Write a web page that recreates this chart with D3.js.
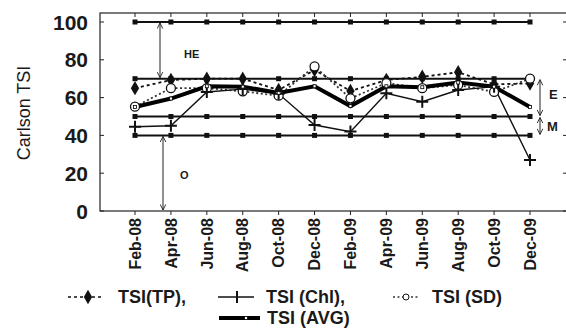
<!DOCTYPE html>
<html><head><meta charset="utf-8">
<script src="https://cdn.jsdelivr.net/npm/d3@7"></script>
<style>body{margin:0;background:#fff}svg{display:block}text{font-family:Arial,"Liberation Sans",sans-serif;fill:#1a1a1a}</style>
</head><body><svg id="c" width="566" height="329"></svg>
<script>
const months = ["Feb-08","Apr-08","Jun-08","Aug-08","Oct-08","Dec-08","Feb-09","Apr-09","Jun-09","Aug-09","Oct-09","Dec-09"];
const tsiTP  = [65, 69.3, 70, 70, 64, 74.6, 63.5, 69.3, 71, 73.4, 67, 67.5];
const tsiChl = [44.6, 45.1, 63, 64.5, 62, 45.5, 42, 62.3, 57.8, 64, 65.8, 27];
const tsiSD  = [55.2, 65, 65, 63.3, 61, 76.5, 59.6, 67.7, 65, 66.7, 63, 70];
const tsiAVG = [55, 59.5, 66, 65.8, 62.5, 66, 55.5, 66, 65.5, 68, 65.8, 55];
const refLevels = [100, 70, 50, 40];
const yTicks = [0, 20, 40, 60, 80, 100];
const zones = [{label:"HE", from:100, to:70}, {label:"O", from:40, to:0}, {label:"E", from:70, to:50}, {label:"M", from:50, to:40}];

const svg = d3.select("#c");
const x = d3.scalePoint().domain(months).range([135, 530]);
const y = d3.scaleLinear().domain([0, 100]).range([211, 22]);
const L = 100, R = 567, T = 13, B = 211;

svg.append("rect").attr("x", L).attr("y", T).attr("width", R - L).attr("height", B - T)
  .attr("fill", "none").attr("stroke", "#222").attr("stroke-width", 1.2);

const ya = svg.append("g");
yTicks.forEach(v => {
  ya.append("line").attr("x1", L).attr("x2", L + 4).attr("y1", y(v)).attr("y2", y(v)).attr("stroke", "#222");
  ya.append("line").attr("x1", R - 4).attr("x2", R).attr("y1", y(v)).attr("y2", y(v)).attr("stroke", "#222");
  ya.append("text").attr("x", 88).attr("y", y(v)).attr("dy", "0.36em").attr("text-anchor", "end")
    .attr("font-size", 21).attr("font-weight", "bold").text(v);
});
svg.append("text").attr("transform", "translate(30,113) rotate(-90)").attr("text-anchor", "middle")
  .attr("font-size", 18).text("Carlson TSI");

months.forEach(m => {
  svg.append("line").attr("x1", x(m)).attr("x2", x(m)).attr("y1", T).attr("y2", T + 4).attr("stroke", "#222");
  svg.append("line").attr("x1", x(m)).attr("x2", x(m)).attr("y1", B).attr("y2", B + 4).attr("stroke", "#222");
  svg.append("text").attr("transform", `translate(${x(m)},218) rotate(-90)`).attr("dy", "0.36em")
    .attr("text-anchor", "end").attr("font-size", 16).attr("font-weight", "bold").text(m);
});

refLevels.forEach(v => {
  svg.append("line").attr("x1", x(months[0])).attr("x2", x(months[months.length - 1]))
    .attr("y1", y(v)).attr("y2", y(v)).attr("stroke", "#111").attr("stroke-width", 2);
  months.forEach(m => svg.append("rect").attr("x", x(m) - 2.5).attr("y", y(v) - 2.5)
    .attr("width", 5).attr("height", 5).attr("fill", "#111"));
});

const defs = svg.append("defs");
defs.append("marker").attr("id", "ah").attr("viewBox", "0 0 10 10").attr("refX", 9).attr("refY", 5)
  .attr("markerWidth", 7).attr("markerHeight", 7).attr("orient", "auto-start-reverse")
  .append("path").attr("d", "M1,1 L9,5 L1,9").attr("fill", "none").attr("stroke", "#222").attr("stroke-width", 1.3);
const arrowX = {HE: 160, O: 163, E: 540, M: 540};
const labelPos = {HE: [184, 54], O: [180, 175], E: [549, 94], M: [547, 126]};
zones.forEach(z => {
  svg.append("line").attr("x1", arrowX[z.label]).attr("x2", arrowX[z.label])
    .attr("y1", y(z.from) + 1).attr("y2", y(z.to) - 1).attr("stroke", "#222").attr("stroke-width", 1)
    .attr("marker-start", "url(#ah)").attr("marker-end", "url(#ah)");
  svg.append("text").attr("x", labelPos[z.label][0]).attr("y", labelPos[z.label][1]).attr("dy", "0.36em")
    .attr("font-size", z.label === "HE" || z.label === "O" ? 11 : 13).attr("font-weight", "bold")
    .attr("fill", "#333").text(z.label);
});

const line = d3.line().x((d, i) => x(months[i])).y(d => y(d));

svg.append("path").attr("d", line(tsiTP)).attr("fill", "none").attr("stroke", "#111")
  .attr("stroke-width", 1.8).attr("stroke-dasharray", "3,3");
svg.append("path").attr("d", line(tsiSD)).attr("fill", "none").attr("stroke", "#333")
  .attr("stroke-width", 1.8).attr("stroke-dasharray", "2,2.5");
svg.append("path").attr("d", line(tsiChl)).attr("fill", "none").attr("stroke", "#111").attr("stroke-width", 1.4);
svg.append("path").attr("d", line(tsiAVG)).attr("fill", "none").attr("stroke", "#000").attr("stroke-width", 4);

const dia = d3.symbol().type(d3.symbolDiamond).size(60);
tsiTP.forEach((v, i) => svg.append("path").attr("d", dia()).attr("transform", `translate(${x(months[i])},${y(v)})`).attr("fill", "#111"));
tsiSD.forEach((v, i) => svg.append("circle").attr("cx", x(months[i])).attr("cy", y(v)).attr("r", 4.5)
  .attr("fill", "#fff").attr("stroke", "#111").attr("stroke-width", 1.3));
tsiChl.forEach((v, i) => svg.append("path").attr("d", "M-6,0H6M0,-6V6").attr("transform", `translate(${x(months[i])},${y(v)})`)
  .attr("stroke", "#111").attr("stroke-width", 2));
tsiAVG.forEach((v, i) => svg.append("rect").attr("x", x(months[i]) - 1.5).attr("y", y(v) - 1.5).attr("width", 3).attr("height", 3)
  .attr("fill", "#fff").attr("stroke", "#000").attr("stroke-width", 0.8));

const lg = svg.append("g");
const ly1 = 297, ly2 = 318, lfs = 18;
lg.append("line").attr("x1", 68).attr("x2", 104).attr("y1", ly1).attr("y2", ly1).attr("stroke", "#111").attr("stroke-width", 1.5).attr("stroke-dasharray", "3,3");
lg.append("path").attr("d", dia()).attr("transform", `translate(88,${ly1})`).attr("fill", "#111");
lg.append("text").attr("x", 118).attr("y", ly1).attr("dy", "0.36em").attr("font-size", lfs).attr("font-weight", "bold").text("TSI(TP),");
lg.append("line").attr("x1", 218).attr("x2", 254).attr("y1", ly1).attr("y2", ly1).attr("stroke", "#111").attr("stroke-width", 1.5);
lg.append("path").attr("d", "M0,-6V6").attr("transform", `translate(237,${ly1})`).attr("stroke", "#111").attr("stroke-width", 2);
lg.append("text").attr("x", 266).attr("y", ly1).attr("dy", "0.36em").attr("font-size", lfs).attr("font-weight", "bold").text("TSI (Chl),");
lg.append("line").attr("x1", 393).attr("x2", 420).attr("y1", ly1).attr("y2", ly1).attr("stroke", "#333").attr("stroke-width", 1.5).attr("stroke-dasharray", "2,2.5");
lg.append("circle").attr("cx", 406).attr("cy", ly1).attr("r", 3).attr("fill", "#fff").attr("stroke", "#111");
lg.append("text").attr("x", 432).attr("y", ly1).attr("dy", "0.36em").attr("font-size", lfs).attr("font-weight", "bold").text("TSI (SD)");
lg.append("line").attr("x1", 219).attr("x2", 260).attr("y1", ly2).attr("y2", ly2).attr("stroke", "#000").attr("stroke-width", 4);
lg.append("rect").attr("x", 244.5).attr("y", ly2 - 1.5).attr("width", 3).attr("height", 3).attr("fill", "#fff").attr("stroke", "#000").attr("stroke-width", 0.8);
lg.append("text").attr("x", 267).attr("y", ly2).attr("dy", "0.36em").attr("font-size", lfs).attr("font-weight", "bold").text("TSI (AVG)");
</script></body></html>
